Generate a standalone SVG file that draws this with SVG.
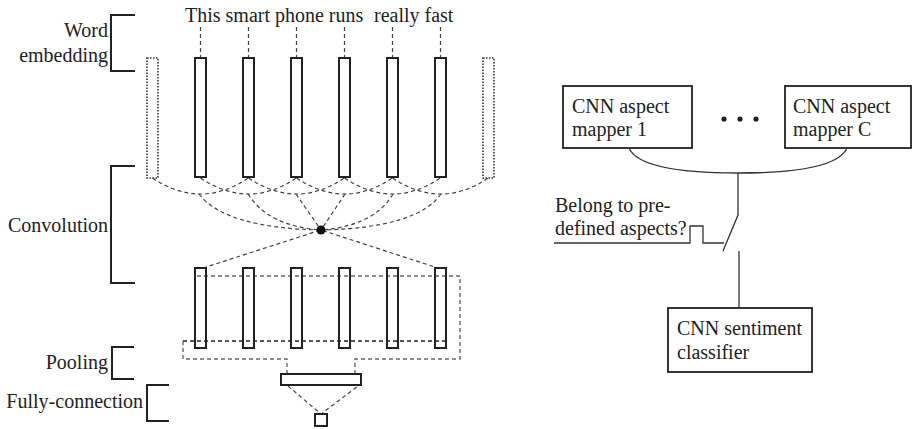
<svg xmlns="http://www.w3.org/2000/svg" width="913" height="429" viewBox="0 0 913 429">
<style>
text{font-family:"Liberation Serif","Times New Roman",serif;font-size:20px;fill:#222}
.br{fill:none;stroke:#222;stroke-width:2}
.col{fill:#fff;stroke:#222;stroke-width:2}
.dot{fill:#fff;stroke:#333;stroke-width:1.6;stroke-dasharray:1.5 1.5}
.dash{fill:none;stroke:#444;stroke-width:1.2;stroke-dasharray:4 3}
.gdash{fill:none;stroke:#666;stroke-width:1.4;stroke-dasharray:4 3}
.ddash{fill:none;stroke:#222;stroke-width:1.4;stroke-dasharray:4 3}
.box{fill:#fff;stroke:#222;stroke-width:1.8}
.ln{fill:none;stroke:#333;stroke-width:1.3}
</style>
<g id="labels">
<path class="br" d="M135,15H111V71H135"/>
<text x="108" y="37" text-anchor="end">Word</text>
<text x="108" y="62" text-anchor="end">embedding</text>
<path class="br" d="M135,166H111V283H135"/>
<text x="108" y="232" text-anchor="end">Convolution</text>
<path class="br" d="M134,347H112V379H134"/>
<text x="108" y="369" text-anchor="end">Pooling</text>
<path class="br" d="M169,385H147V421H169"/>
<text x="143" y="408" text-anchor="end">Fully-connection</text>
</g>
<g id="sentence">
<text x="185" y="22">This smart phone runs<tspan x="374">really fast</tspan></text>
</g>
<g id="connectors">
<path class="dash" d="M200.5,27V58M248.5,27V58M296.5,27V58M344.5,27V58M392.5,27V58M440.5,27V58"/>
<path class="dash" d="M152.5,178Q200.5,210 248.5,178M200.5,178Q248.5,210 296.5,178M248.5,178Q296.5,210 344.5,178M296.5,178Q344.5,210 392.5,178M344.5,178Q392.5,210 440.5,178M392.5,178Q440.5,210 488.5,178"/>
<path class="dash" d="M199,194Q225,228 321,230M248,194Q268,226 321,230M296,194L321,230M345,194L321,230M393,194Q374,226 321,230M441,194Q417,228 321,230"/>
<path class="dash" d="M203,268L321,230L438,268"/>
<path class="gdash" d="M197,276H460V359H355V374"/>
<path class="ddash" d="M446,341H183"/>
<path class="gdash" d="M183,341V359H287V374"/>
<path class="dash" d="M288,386L321,414L358,386"/>
</g>
<g id="embedding">
<rect class="dot" x="147" y="58" width="11" height="120"/>
<rect class="col" x="195" y="58" width="11" height="119"/>
<rect class="col" x="243" y="58" width="11" height="119"/>
<rect class="col" x="291" y="58" width="11" height="119"/>
<rect class="col" x="339" y="58" width="11" height="119"/>
<rect class="col" x="387" y="58" width="11" height="119"/>
<rect class="col" x="435" y="58" width="11" height="119"/>
<rect class="dot" x="483" y="58" width="11" height="120"/>
</g>
<g id="conv-dot"><circle cx="321" cy="230" r="4.5" fill="#111"/></g>
<g id="feature-maps">
<rect class="col" x="195" y="268" width="11" height="80" fill="none" style="fill:none"/>
<rect class="col" x="243" y="268" width="11" height="80" style="fill:none"/>
<rect class="col" x="291" y="268" width="11" height="80" style="fill:none"/>
<rect class="col" x="339" y="268" width="11" height="80" style="fill:none"/>
<rect class="col" x="387" y="268" width="11" height="80" style="fill:none"/>
<rect class="col" x="435" y="268" width="11" height="80" style="fill:none"/>
</g>
<g id="pooled"><rect class="col" x="281" y="374" width="80" height="11"/></g>
<g id="output"><rect class="col" x="315" y="414" width="12" height="12"/></g>
<g id="mapper1">
<rect class="box" x="563" y="86" width="129" height="62"/>
<text x="572" y="113">CNN aspect</text>
<text x="572" y="136">mapper 1</text>
</g>
<g id="ellipsis">
<circle cx="724" cy="119" r="2.6" fill="#222"/>
<circle cx="740" cy="119" r="2.6" fill="#222"/>
<circle cx="756" cy="119" r="2.6" fill="#222"/>
</g>
<g id="mapperC">
<rect class="box" x="785" y="86" width="126" height="62"/>
<text x="793" y="113">CNN aspect</text>
<text x="793" y="136">mapper C</text>
</g>
<g id="switch">
<path class="ln" d="M629,148Q640,173 738,173Q836,173 847,148"/>
<path class="ln" d="M738,173V215L723,251"/>
<path class="ln" d="M554,243H690V226H703V243H724"/>
<path class="ln" d="M739,251V308"/>
<text x="555" y="212">Belong to pre-</text>
<text x="555" y="235">defined aspects?</text>
</g>
<g id="sentiment">
<rect class="box" x="668" y="308" width="144" height="64"/>
<text x="677" y="335">CNN sentiment</text>
<text x="677" y="359">classifier</text>
</g>
</svg>
